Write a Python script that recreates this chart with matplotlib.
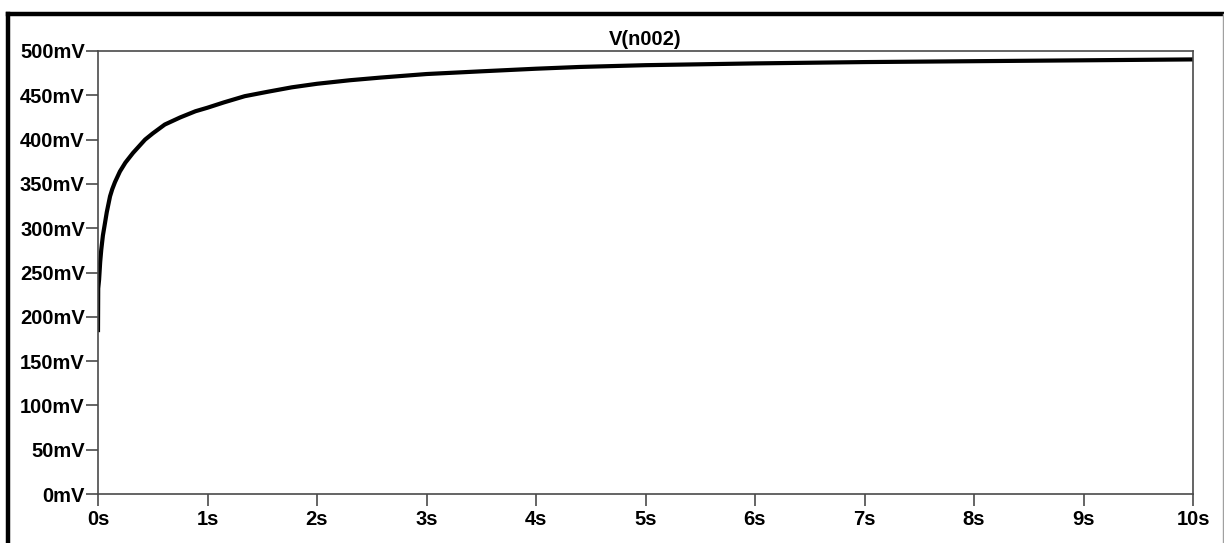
import numpy as np
import matplotlib
matplotlib.use('Agg')
import matplotlib.pyplot as plt
from matplotlib.lines import Line2D

# transient result (time in s, voltage in mV)
t_s = [0.0, 0.002, 0.01, 0.02, 0.03, 0.045, 0.064, 0.08, 0.11, 0.13, 0.155,
       0.2, 0.25, 0.32, 0.43, 0.5, 0.61, 0.75, 0.89, 1.0, 1.15, 1.34, 1.55,
       1.77, 2.0, 2.3, 2.58, 3.0, 3.49, 4.0, 4.4, 5.0, 6.0, 7.0, 8.0, 9.0, 10.0]
v_mv = [185, 232, 242, 262, 276, 292, 306, 318, 336, 344, 352,
        364, 374, 385, 400, 407, 417, 425, 432, 436, 442, 449, 454,
        459, 463, 467, 470, 474, 477, 480, 482, 484, 486, 487.5, 488.5, 489.5, 490.5]

x_ticks = list(range(0, 11))
x_labels = ['{}s'.format(i) for i in x_ticks]
y_ticks = list(range(0, 501, 50))
y_labels = ['{}mV'.format(i) for i in y_ticks]

trace_name = 'V(n002)'

plt.rcParams['font.family'] = ['Liberation Sans Narrow', 'Liberation Sans', 'DejaVu Sans']

W, H = 1224, 543
fig = plt.figure(figsize=(W / 100, H / 100), dpi=100)
ax = fig.add_axes([98 / W, 1 - 494 / H, (1193 - 98) / W, (494 - 51) / H])

ax.plot(t_s, v_mv, color='black', linewidth=3.0, solid_joinstyle='round')

ax.set_xlim(0, 10)
ax.set_ylim(0, 500)
ax.set_xticks(x_ticks)
ax.set_xticklabels(x_labels)
ax.set_yticks(y_ticks)
ax.set_yticklabels(y_labels)

axis_grey = '#4a4a4a'
for sp in ax.spines.values():
    sp.set_color(axis_grey)
    sp.set_linewidth(1.2)
ax.tick_params(direction='out', length=8.5, width=1.2, color=axis_grey,
               labelsize=14.5, pad=1.0)
ax.tick_params(axis='x', pad=3)
for lab in ax.get_xticklabels() + ax.get_yticklabels():
    lab.set_fontweight('bold')

ax.set_title(trace_name, fontsize=14.5, fontweight='bold', pad=4)

# window frame: heavy black top/left edge, thin grey right edge
fig.add_artist(Line2D([8 / W, 8 / W], [0, 1 - 14 / H], color='black',
                      linewidth=3.2, transform=fig.transFigure,
                      solid_capstyle='projecting'))
fig.add_artist(Line2D([8 / W, 1223 / W], [1 - 14 / H, 1 - 14 / H], color='black',
                      linewidth=3.2, transform=fig.transFigure,
                      solid_capstyle='projecting'))
fig.add_artist(Line2D([1223 / W, 1223 / W], [0, 1 - 14 / H], color='#a0a0a0',
                      linewidth=1.0, transform=fig.transFigure))

fig.savefig('out.png', dpi=100)
